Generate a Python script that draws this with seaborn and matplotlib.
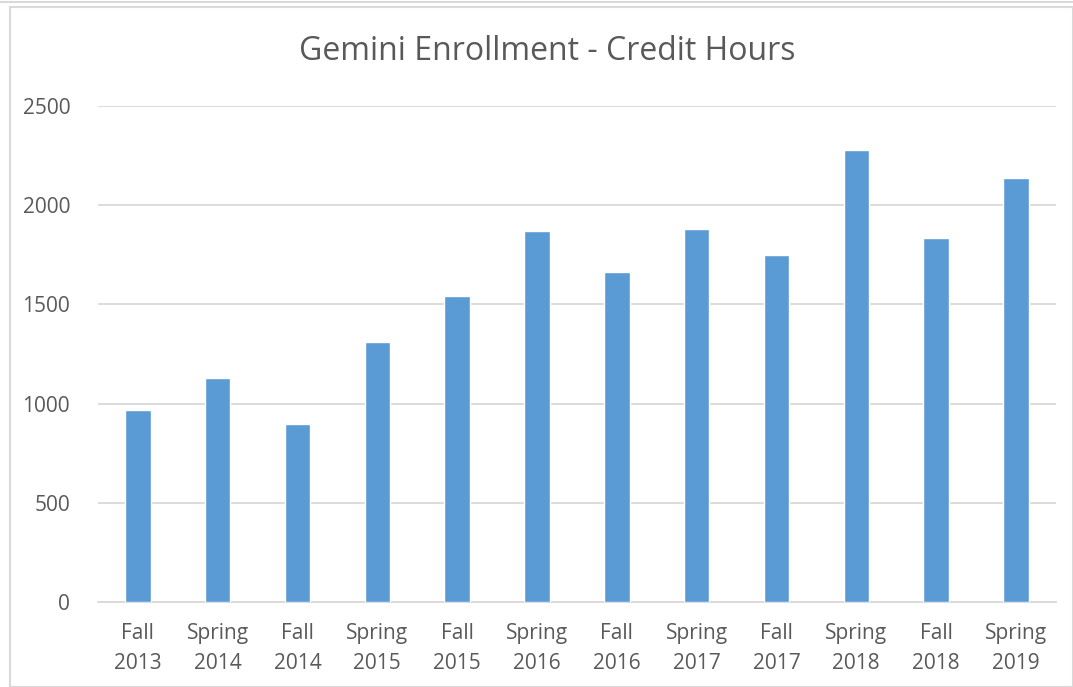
import matplotlib
matplotlib.use("Agg")
import matplotlib.pyplot as plt
import seaborn as sns
import pandas as pd
from matplotlib.patches import Rectangle

terms = ["Fall\n2013", "Spring\n2014", "Fall\n2014", "Spring\n2015", "Fall\n2015", "Spring\n2016",
         "Fall\n2016", "Spring\n2017", "Fall\n2017", "Spring\n2018", "Fall\n2018", "Spring\n2019"]
credit_hours = [970, 1128, 897, 1310, 1540, 1870, 1663, 1880, 1748, 2280, 1836, 2137]

sns.set_style("white")
plt.rcParams['font.family'] = ['Open Sans', 'DejaVu Sans']

df = pd.DataFrame({"term": terms, "hours": credit_hours})

fig = plt.figure(figsize=(10.73, 6.87), dpi=100)
ax = fig.add_axes([0.0913, 0.1237, 0.8927, 0.722])

sns.barplot(data=df, x="term", y="hours", color="#5B9BD5", saturation=1, width=0.32, ax=ax, zorder=3)

ax.set_ylim(0, 2500)
ax.set_yticks([0, 500, 1000, 1500, 2000, 2500])
ax.yaxis.grid(True, color="#d9d9d9", lw=1.3, zorder=0)
ax.set_axisbelow(True)
for s in ["top", "right", "left"]:
    ax.spines[s].set_visible(False)
ax.spines["bottom"].set_color("#d9d9d9")
ax.spines["bottom"].set_linewidth(1.3)
ax.tick_params(axis="both", length=0, labelsize=15, colors="#595959")
ax.tick_params(axis="x", pad=15)
ax.tick_params(axis="y", pad=20)
for lbl in ax.get_xticklabels():
    lbl.set_linespacing(1.55)
ax.set_xlabel("")
ax.set_ylabel("")
# title is centred on the whole chart, not the plot area
fig.text(547 / 1073, 1 - 52 / 687, "Gemini Enrollment - Credit Hours", fontsize=23,
         color="#595959", ha="center", va="center")

# chart border
fig.patches.append(Rectangle((10 / 1073, 0), 1 - 10 / 1073, 1 - 7 / 687, transform=fig.transFigure,
                             fill=False, edgecolor="#d9d9d9", lw=1.5))
fig.lines.append(plt.Line2D([0, 1], [1 - 2 / 687, 1 - 2 / 687], transform=fig.transFigure,
                            color="#d9d9d9", lw=1.5))

fig.savefig("out.png", dpi=100)
